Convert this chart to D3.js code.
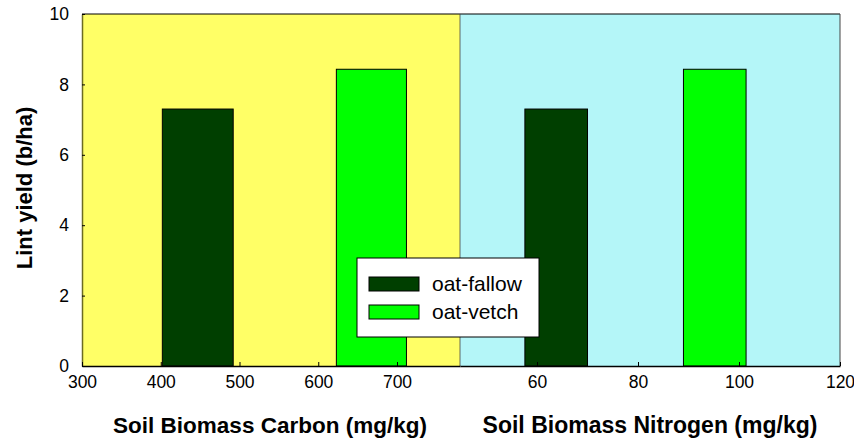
<!DOCTYPE html>
<html>
<head>
<meta charset="utf-8">
<script src="https://cdn.jsdelivr.net/npm/d3@7"></script>
<style>
  body { margin: 0; background: #fff; }
  text { font-family: "Liberation Sans", Arial, sans-serif; }
</style>
</head>
<body>
<div id="chart"></div>
<script>
// data
var series = ["oat-fallow", "oat-vetch"];
var yieldVals = [7.3, 8.43];
var carbonBars = [[402, 492], [623, 712]];   // mg/kg extents
var nitrogenBars = [[57.6, 70.0], [89.0, 101.4]];
var carbonTicks = [300, 400, 500, 600, 700];
var nitrogenTicks = [60, 80, 100, 120];
var yTicks = [0, 2, 4, 6, 8, 10];
var colors = ["#003f00", "#00ff00"];

var W = 854, H = 440;
var plotTop = 14, plotBottom = 366, plotLeft = 82, plotMid = 460, plotRight = 840;

var svg = d3.select("#chart")
  .append("svg")
    .attr("width", W)
    .attr("height", H);

var y = d3.scaleLinear().domain([0, 10]).range([plotBottom, plotTop]);
var xC = d3.scaleLinear().domain([300, 780]).range([plotLeft, plotMid]);
var xN = d3.scaleLinear().domain([44.75, 120]).range([plotMid, plotRight]);

// panel backgrounds
svg.append("rect").attr("x", plotLeft).attr("y", plotTop)
  .attr("width", plotMid - plotLeft).attr("height", plotBottom - plotTop)
  .attr("fill", "#ffff66");
svg.append("rect").attr("x", plotMid).attr("y", plotTop)
  .attr("width", plotRight - plotMid).attr("height", plotBottom - plotTop)
  .attr("fill", "#b4f6f8");

// bars
function drawBars(ext, x) {
  svg.selectAll(null)
    .data(ext)
    .enter()
    .append("rect")
    .attr("x", function(d) { return x(d[0]); })
    .attr("y", function(d, i) { return y(yieldVals[i]); })
    .attr("width", function(d) { return x(d[1]) - x(d[0]); })
    .attr("height", function(d, i) { return y(0) - y(yieldVals[i]); })
    .attr("fill", function(d, i) { return colors[i]; })
    .attr("stroke", "#000")
    .attr("stroke-width", 1);
}
drawBars(carbonBars, xC);
drawBars(nitrogenBars, xN);

// frame
svg.append("line").attr("x1", plotLeft).attr("x2", plotRight).attr("y1", plotTop).attr("y2", plotTop)
  .attr("stroke", "#000");
svg.append("line").attr("x1", plotRight).attr("x2", plotRight).attr("y1", plotTop).attr("y2", plotBottom)
  .attr("stroke", "#444");
svg.append("line").attr("x1", plotMid).attr("x2", plotMid).attr("y1", plotTop).attr("y2", plotBottom)
  .attr("stroke", "#444").attr("stroke-width", 0.8);

// axes
var yAxis = svg.append("g")
  .attr("transform", "translate(" + plotLeft + ",0)")
  .call(d3.axisLeft(y).tickValues(yTicks).tickSizeInner(-3).tickSizeOuter(0).tickPadding(13));
var xAxisC = svg.append("g")
  .attr("transform", "translate(0," + plotBottom + ")")
  .call(d3.axisBottom(xC).tickValues(carbonTicks).tickSizeInner(-4).tickSizeOuter(0).tickPadding(10));
var xAxisN = svg.append("g")
  .attr("transform", "translate(0," + plotBottom + ")")
  .call(d3.axisBottom(xN).tickValues(nitrogenTicks).tickSizeInner(-4).tickSizeOuter(0).tickPadding(10));

[yAxis, xAxisC, xAxisN].forEach(function(g) {
  g.selectAll("text").style("font-size", "17.5px").attr("fill", "#000")
    .style("font-family", "Liberation Sans, Arial, sans-serif");
  g.select(".domain").attr("stroke", "#000").attr("stroke-width", 1.5);
});
yAxis.select(".domain").attr("stroke", "#6b6b20");

// axis titles
svg.append("text")
  .attr("transform", "translate(32," + 188 + ") rotate(-90)")
  .attr("text-anchor", "middle")
  .style("font-size", "22px").style("font-weight", "bold")
  .text("Lint yield (b/ha)");
svg.append("text")
  .attr("x", 270).attr("y", 433)
  .attr("text-anchor", "middle")
  .style("font-size", "22.5px").style("font-weight", "bold")
  .text("Soil Biomass Carbon (mg/kg)");
svg.append("text")
  .attr("x", 650).attr("y", 433)
  .attr("text-anchor", "middle")
  .style("font-size", "23px").style("font-weight", "bold")
  .text("Soil Biomass Nitrogen (mg/kg)");

// legend
var lg = svg.append("g").attr("transform", "translate(357,258)");
lg.append("rect").attr("width", 182).attr("height", 79)
  .attr("fill", "#fff").attr("stroke", "#000");
series.forEach(function(s, i) {
  lg.append("rect").attr("x", 12).attr("y", 19 + i * 28)
    .attr("width", 50).attr("height", 14)
    .attr("fill", colors[i]).attr("stroke", "#000");
  lg.append("text").attr("x", 75).attr("y", 33 + i * 28)
    .style("font-size", "21px")
    .text(s);
});
</script>
</body>
</html>
